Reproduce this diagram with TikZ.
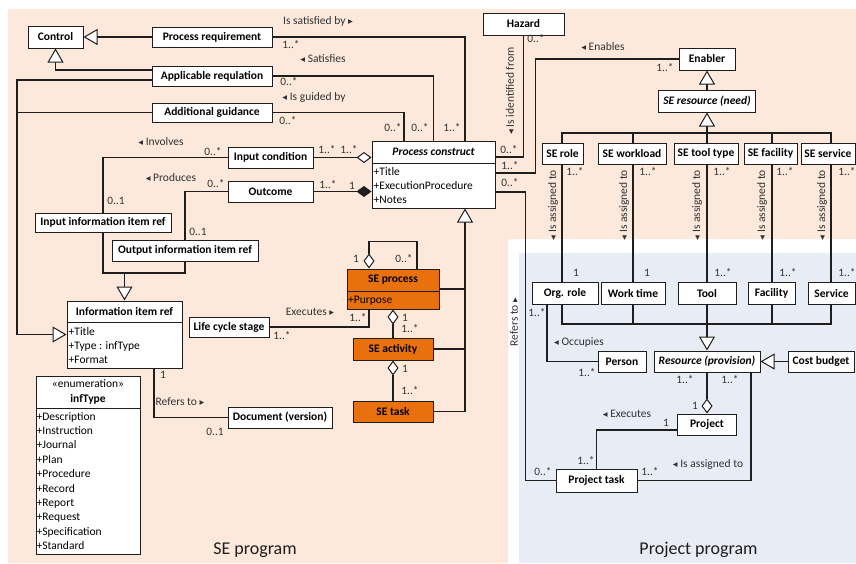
\documentclass[tikz,border=0pt]{standalone}
\usepackage{fontspec}
\setmainfont{Carlito}
\newfontfamily\symf{DejaVu Sans}
\usetikzlibrary{arrows.meta}
\definecolor{peach}{RGB}{252,233,220}
\definecolor{paleblue}{RGB}{232,236,244}
\definecolor{seorange}{RGB}{232,113,14}
\definecolor{ink}{RGB}{30,30,30}
\definecolor{labelgray}{RGB}{50,50,50}
\newcommand\tril{{\symf\fontsize{9.5}{9.5}\selectfont\char"25C2}}
\newcommand\trir{{\symf\fontsize{9.5}{9.5}\selectfont\char"25B8}}

\begin{document}
\begin{tikzpicture}[x=1pt,y=-1pt,
  cls/.style={draw=ink, fill=white, line width=1pt, inner sep=0pt, font=\fontsize{11.5}{13}\selectfont\bfseries},
  orangecls/.style={cls, fill=seorange},
  lbl/.style={inner sep=0pt, text=labelgray, font=\fontsize{11.5}{13}\selectfont},
  mult/.style={inner sep=0pt, text=labelgray, font=\fontsize{11.3}{12}\selectfont},
  attr/.style={inner sep=0pt, anchor=base west, font=\fontsize{11.5}{13}\selectfont},
  conn/.style={draw=ink, line width=1.1pt},
  gen/.style={conn, -{Triangle[fill=white,length=14pt,width=16pt,line width=1pt]}},
  agg/.style={conn, {Diamond[fill=white,length=15pt,width=11pt,line width=1pt]}-},
  comp/.style={conn, {Diamond[fill=ink,length=15pt,width=11pt]}-},
]
% areas
\useasboundingbox (0,0) rectangle (856,563);
\fill[peach] (8,9) -- (856,9) -- (856,239) -- (508,239) -- (508,563) -- (8,563) -- cycle;
\fill[paleblue] (519,253) rectangle (856,563);

% ---------- SE program classes ----------
\node[cls, minimum width=55pt, minimum height=22pt] (control) at (55.5,37) {Control};
\node[cls, minimum width=120pt, minimum height=20pt] (preq) at (212,37) {Process requirement};
\node[cls, minimum width=120pt, minimum height=20pt] (areg) at (212,76) {Applicable requlation};
\node[cls, minimum width=120pt, minimum height=19pt] (aguid) at (212,112.5) {Additional guidance};
\node[cls, minimum width=85pt, minimum height=21pt] (incond) at (270.5,157.5) {Input condition};
\node[cls, minimum width=85pt, minimum height=21pt] (outc) at (270.5,191.5) {Outcome};
\node[cls, minimum width=136pt, minimum height=19pt] (iiir) at (103,222.5) {Input information item ref};
\node[cls, minimum width=146pt, minimum height=21pt] (oiir) at (185,250.5) {Output information item ref};
\node[cls, minimum width=80pt, minimum height=20pt] (lcs) at (229,327) {Life cycle stage};
\node[cls, minimum width=104pt, minimum height=21pt] (doc) at (280,417.5) {Document (version)};
\node[cls, minimum width=81pt, minimum height=22pt] (hazard) at (523.5,24) {Hazard};

% Process construct
\node[cls, minimum width=123pt, minimum height=67pt] (pc) at (433.5,174.5) {};
\node[inner sep=0pt, font=\fontsize{11.5}{13}\selectfont\bfseries\itshape] (pchead) at (433.5,152) {Process construct};
\draw[ink, line width=1pt] (pc.west |- 0,163) -- (pc.east |- 0,163);
\node[attr] (pcatt1) at (373.5,175) {+Title};
\node[attr] (pcatt2) at (373.5,189) {+ExecutionProcedure};
\node[attr] (pcatt3) at (373.5,203) {+Notes};

% Information item ref
\node[cls, minimum width=115pt, minimum height=67pt] (iir) at (124.5,334.5) {};
\node[inner sep=0pt, font=\fontsize{11.5}{13}\selectfont\bfseries] (iirhead) at (124.5,311.5) {Information item ref};
\draw[ink, line width=1pt] (iir.west |- 0,322) -- (iir.east |- 0,322);
\node[attr] (iiratt1) at (68.5,335) {+Title};
\node[attr] (iiratt2) at (68.5,349) {+Type : infType};
\node[attr] (iiratt3) at (68.5,363) {+Format};

% infType enumeration
\node[cls, minimum width=104pt, minimum height=178pt] (inft) at (88,465) {};
\node[inner sep=0pt, font=\fontsize{11.5}{13}\selectfont] (inftst) at (88,384) {«enumeration»};
\node[inner sep=0pt, font=\fontsize{11.5}{13}\selectfont\bfseries] (inftname) at (88,399) {infType};
\draw[ink, line width=1pt] (inft.west |- 0,408) -- (inft.east |- 0,408);
\foreach \t [count=\i from 0] in {Description,Instruction,Journal,Plan,Procedure,Record,Report,Request,Specification,Standard}
  \node[attr] (inftit\i) at (36.5,{420+14.4*\i}) {+\t};

% SE process, activity, task
\node[orangecls, minimum width=92pt, minimum height=40pt] (sep) at (393,289) {};
\node[inner sep=0pt, font=\fontsize{11.5}{13}\selectfont\bfseries] (sephead) at (393,280) {SE process};
\draw[ink, line width=1pt] (sep.west |- 0,291) -- (sep.east |- 0,291);
\node[attr] (sepatt) at (348,303) {+Purpose};
\node[orangecls, minimum width=80pt, minimum height=22pt] (sea) at (393,349) {SE activity};
\node[orangecls, minimum width=80pt, minimum height=21pt] (setask) at (393,411.5) {SE task};

% ---------- resources ----------
\node[cls, minimum width=56pt, minimum height=22pt] (enabler) at (707,59) {Enabler};
\node[cls, minimum width=97pt, minimum height=22pt, font=\fontsize{11.5}{13}\selectfont\bfseries\itshape] (seres) at (707,101) {SE resource (need)};
\node[cls, minimum width=41pt, minimum height=21pt] (serole) at (562.5,153.5) {SE role};
\node[cls, minimum width=68pt, minimum height=21pt] (sework) at (632,153.5) {SE workload};
\node[cls, minimum width=64pt, minimum height=21pt] (setool) at (706,153.5) {SE tool type};
\node[cls, minimum width=53pt, minimum height=21pt] (sefac) at (770.5,153.5) {SE facility};
\node[cls, minimum width=54pt, minimum height=21pt] (seserv) at (828,153.5) {SE service};

\node[cls, minimum width=66pt, minimum height=22pt] (orgrole) at (565,293) {Org. role};
\node[cls, minimum width=64pt, minimum height=22pt] (worktime) at (633,293) {Work time};
\node[cls, minimum width=58pt, minimum height=22pt] (tool) at (707,293) {Tool};
\node[cls, minimum width=47pt, minimum height=22pt] (facility) at (771.5,293) {Facility};
\node[cls, minimum width=47pt, minimum height=22pt] (service) at (831.5,293) {Service};

\node[cls, minimum width=106pt, minimum height=21pt, font=\fontsize{11.5}{13}\selectfont\bfseries\itshape] (resource) at (707,361.5) {Resource (provision)};
\node[cls, minimum width=48pt, minimum height=21pt] (person) at (622,361.5) {Person};
\node[cls, minimum width=66pt, minimum height=21pt] (cost) at (821,361.5) {Cost budget};
\node[cls, minimum width=59pt, minimum height=21pt] (project) at (707,424.5) {Project};
\node[cls, minimum width=81pt, minimum height=23pt] (ptask) at (596.5,480.5) {Project task};

% ---------- connectors ----------
\draw[gen] (preq.west) -- (control.east);
\draw[gen] ([yshift=6pt]areg.west) -| (control.south);
\coordinate (lbus) at (17,334.5);
\draw[gen] ([yshift=-4pt]areg.west) -| (lbus) -- (iir.west);
\draw[conn] (aguid.west) -- (aguid.west -| lbus);

\draw[conn] (preq.east) -| ([xshift=31.5pt]pc.north);
\draw[conn] (areg.east) -| (pc.north);
\draw[conn] (aguid.east) -| ([xshift=-29.5pt]pc.north);
\draw[agg] (pc.west |- incond.east) -- (incond.east);
\draw[comp] (pc.west |- outc.east) -- (outc.east);

\draw[conn] (hazard.south) |- ([yshift=17.5pt]pc.east);
\draw[conn] ([yshift=1.5pt]pc.east) -- ++(40,0) |- (enabler.west);
\draw[conn] ([yshift=-17.5pt]pc.east) -- ++(30,0) |- (ptask.west);

\draw[conn] (incond.west) -| (iiir.north);
\draw[conn] (outc.west) -| (oiir.north);
\coordinate (ibus) at (124.5,273);
\draw[conn] (iiir.south) |- (ibus) -| (oiir.south);
\draw[gen] (ibus) -- (iir.north);
\draw[conn] ([xshift=29.5pt]iir.south) |- (doc.west);

\draw[conn] (lcs.east) -| ([xshift=-24pt]sep.south);
\draw[agg] ([xshift=-24pt]sep.north) -- ++(0,-27) -| ([xshift=24pt]sep.north);
\draw[agg] (sep.south) -- (sea.north);
\draw[agg] (sea.south) -- (setask.north);
\draw[gen] (setask.east) -| ([xshift=31.5pt]pc.south);
\draw[conn] (sep.east) -- ++(26,0);
\draw[conn] (sea.east) -- ++(32,0);

\draw[gen] (seres.north) -- (enabler.south);
\coordinate (sebus) at (707,133);
\draw[gen] (sebus) -- (seres.south);
\draw[conn] (serole.north -| 562,0) |- (sebus) -| (seserv.north -| 831,0);
\foreach \b/\x in {sework/633, setool/707, sefac/772}
  \draw[conn] (\b.north -| \x,0) -- ++(0,-10);
\foreach \a/\b/\x in {serole/orgrole/562, sework/worktime/633, setool/tool/707, sefac/facility/772, seserv/service/831}
  \draw[conn] (\a.south -| \x,0) -- (\b.north -| \x,0);

\coordinate (rbus) at (707,324);
\draw[conn] (orgrole.south -| 562,0) |- (rbus) -| (service.south -| 831,0);
\foreach \b/\x in {worktime/633, tool/707, facility/772}
  \draw[conn] (\b.south -| \x,0) -- ++(0,20);
\draw[gen] (rbus) -- (resource.north);
\draw[gen] (cost.west) -- (resource.east);
\draw[conn] (orgrole.south -| 547,0) |- (person.west);
\draw[agg] (project.north) -- (resource.south);
\draw[conn] ([xshift=44pt]resource.south) |- (ptask.east);
\draw[conn] ([yshift=-5.5pt]project.west) -| (ptask.north);

% ---------- association labels ----------
\node[lbl] (lsatby) at (318,21) {Is satisfied by \trir};
\node[mult] (m1) at (291,45) {1..*};
\node[mult] (m2) at (452,128) {1..*};
\node[lbl] (lsat) at (323,59) {\tril\ Satisfies};
\node[mult] (m3) at (289,82) {0..*};
\node[mult] (m4) at (420,128) {0..*};
\node[lbl] (lguid) at (314,97) {\tril\ Is guided by};
\node[mult] (m5) at (288,121) {0..*};
\node[mult] (m6) at (393,128) {0..*};

\node[mult] (m7) at (536,39) {0..*};
\node[mult] (m8) at (509,150) {0..*};
\node[lbl, rotate=90] (lident) at (510,91) {\tril\ Is identified from};
\node[mult] (m9) at (510,166) {1..*};
\node[mult] (m10) at (510,183) {0..*};
\node[lbl] (lenab) at (603,47) {\tril\ Enables};
\node[mult] (m11) at (665,68) {1..*};

\node[lbl] (linv) at (161,142) {\tril\ Involves};
\node[mult] (m12) at (213,152) {0..*};
\node[mult] (m13) at (116,201) {0..1};
\node[mult] (m14) at (327,150) {1..*};
\node[mult] (m15) at (349,150) {1..*};
\node[lbl] (lprod) at (171,178) {\tril\ Produces};
\node[mult] (m16) at (216,184) {0..*};
\node[mult] (m17) at (198,232) {0..1};
\node[mult] (m18) at (328,185) {1..*};
\node[mult] (m19) at (352,186) {1};

\node[lbl] (lexec) at (310,312) {Executes \trir};
\node[mult] (m20) at (282,336) {1..*};
\node[mult] (m21) at (358,318) {1..*};
\node[mult] (m22) at (356,259) {1};
\node[mult] (m23) at (404,259) {0..*};
\node[mult] (m24) at (405,318) {1};
\node[mult] (m25) at (410,329) {1..*};
\node[mult] (m26) at (405,369) {1};
\node[mult] (m27) at (410,391) {1..*};

\node[mult] (m28) at (163,375) {1};
\node[lbl] (lref) at (180,402) {Refers to \trir};
\node[mult] (m29) at (215,432) {0..1};

\foreach \x/\n in {575/a, 648/b, 722/c, 785/d, 847/e}
  \node[mult] (mse\n) at (\x,172) {1..*};
\foreach \x/\n in {553/a, 624/b, 697/c, 762/d, 822/e}
  \node[lbl, rotate=90] (lasg\n) at (\x,205) {\tril\ Is assigned to};
\node[mult] (mlowa) at (576,273) {1};
\node[mult] (mlowb) at (647,273) {1};
\node[mult] (mlowc) at (723,273) {1..*};
\node[mult] (mlowd) at (788,273) {1..*};
\node[mult] (mlowe) at (847,273) {1..*};

\node[mult] (m30) at (537,313) {1..*};
\node[lbl] (locc) at (579,342) {\tril\ Occupies};
\node[mult] (m31) at (587,373) {1..*};
\node[mult] (m32) at (685,380) {1..*};
\node[mult] (m33) at (730,380) {1..*};
\node[mult] (m34) at (695,406) {1};
\node[lbl] (lexec2) at (627,414) {\tril\ Executes};
\node[mult] (m35) at (666,423) {1};
\node[mult] (m36) at (586,461) {1..*};
\node[mult] (m37) at (543,472) {0..*};
\node[mult] (m38) at (650,472) {1..*};
\node[lbl] (lasgp) at (708,464) {\tril\ Is assigned to};
\node[lbl, rotate=90] (lrefp) at (514,322) {Refers to \trir};

% area titles
\node[inner sep=0pt, text=ink, font=\fontsize{18}{20}\selectfont] (seprog) at (255,550) {SE program};
\node[inner sep=0pt, text=ink, font=\fontsize{18}{20}\selectfont] (projprog) at (698.5,550) {Project program};
\end{tikzpicture}
\end{document}
